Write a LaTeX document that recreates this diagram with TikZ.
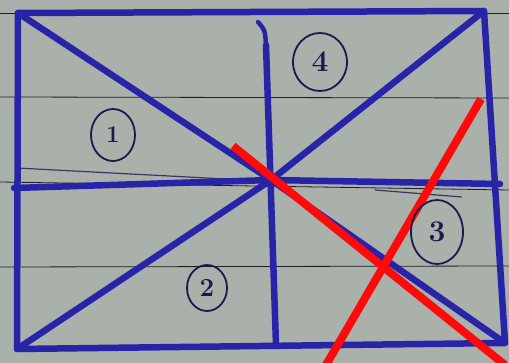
\documentclass[tikz,border=0pt]{standalone}
\usetikzlibrary{shapes.geometric}
\definecolor{paper}{RGB}{170,177,171}
\definecolor{rule}{RGB}{30,30,30}
\definecolor{ink}{RGB}{40,36,168}
\definecolor{pen}{RGB}{26,26,78}
\definecolor{redpen}{RGB}{255,10,10}
\tikzset{
  ruling/.style={draw=rule, line width=0.8pt},
  inkline/.style={draw=ink, line width=6.5pt, line cap=round, line join=round},
  pencil/.style={draw=pen!80!paper, line width=1.2pt},
  redline/.style={draw=redpen, line width=8pt},
  lbl/.style={ellipse, draw=pen, line width=1.8pt, text=pen, inner sep=0pt, minimum width=#1},
}
\begin{document}
\begin{tikzpicture}[x=1pt,y=-1pt]
\fill[paper] (0,0) rectangle (509,363);
\useasboundingbox (0,0) rectangle (509,363);
% ruled paper lines
\coordinate (r1a) at (0,13); \coordinate (r1b) at (509,13);
\coordinate (r2a) at (0,97); \coordinate (r2b) at (509,98);
\coordinate (r3a) at (0,182); \coordinate (r3b) at (509,190);
\coordinate (r4a) at (0,267); \coordinate (r4b) at (509,266);
\draw[ruling] (r1a) -- (r1b);
\draw[ruling] (r2a) -- (r2b);
\draw[ruling] (r3a) -- (r3b);
\draw[ruling] (r4a) -- (r4b);
% corners and centre
\coordinate (tl) at (18,13);
\coordinate (tr) at (484,11);
\coordinate (br) at (505,343);
\coordinate (bl) at (17,349);
\coordinate (c) at (271,180);
\coordinate (vt) at (258,22);
\coordinate (vm) at (266,45);
\coordinate (vb) at (276,345);
\coordinate (hl) at (14,188);
\coordinate (hr) at (500,184);
% pencil guide lines
\coordinate (p1) at (17,168);
\coordinate (p2) at (245,180);
\coordinate (p3) at (375,190);
\coordinate (p4) at (462,197);
\draw[pencil] (p1) -- (p2);
\draw[pencil] (p3) -- (p4);
% blue ink drawing
\draw[inkline] (tl) -- (tr) -- (br) -- (bl) -- cycle;
\draw[inkline, line width=4.5pt] (vt) .. controls (265,30) .. (vm);
\draw[inkline] (vm) -- (vb);
\draw[inkline] (hl) -- (c) -- (hr);
\draw[inkline] (tl) -- (c) -- (br);
\draw[inkline] (bl) -- (c) -- (tr);
% red lines
\coordinate (ra1) at (233,146);
\coordinate (ra2) at (505,365);
\coordinate (rb1) at (481,99);
\coordinate (rb2) at (326,365);
\draw[redline] (ra1) -- (ra2);
\draw[redline] (rb1) -- (rb2);
% labels
\node[lbl=54pt, minimum height=58pt, font=\fontsize{30}{30}\selectfont\bfseries] (n4) at (320,62) {4};
\node[lbl=44pt, minimum height=52pt, font=\fontsize{24}{24}\selectfont\bfseries] (n1) at (113,135) {1};
\node[lbl=40pt, minimum height=46pt, font=\fontsize{26}{26}\selectfont\bfseries] (n2) at (207,288) {2};
\node[lbl=52pt, minimum height=64pt, font=\fontsize{30}{30}\selectfont\bfseries] (n3) at (437,232) {3};
\end{tikzpicture}
\end{document}
